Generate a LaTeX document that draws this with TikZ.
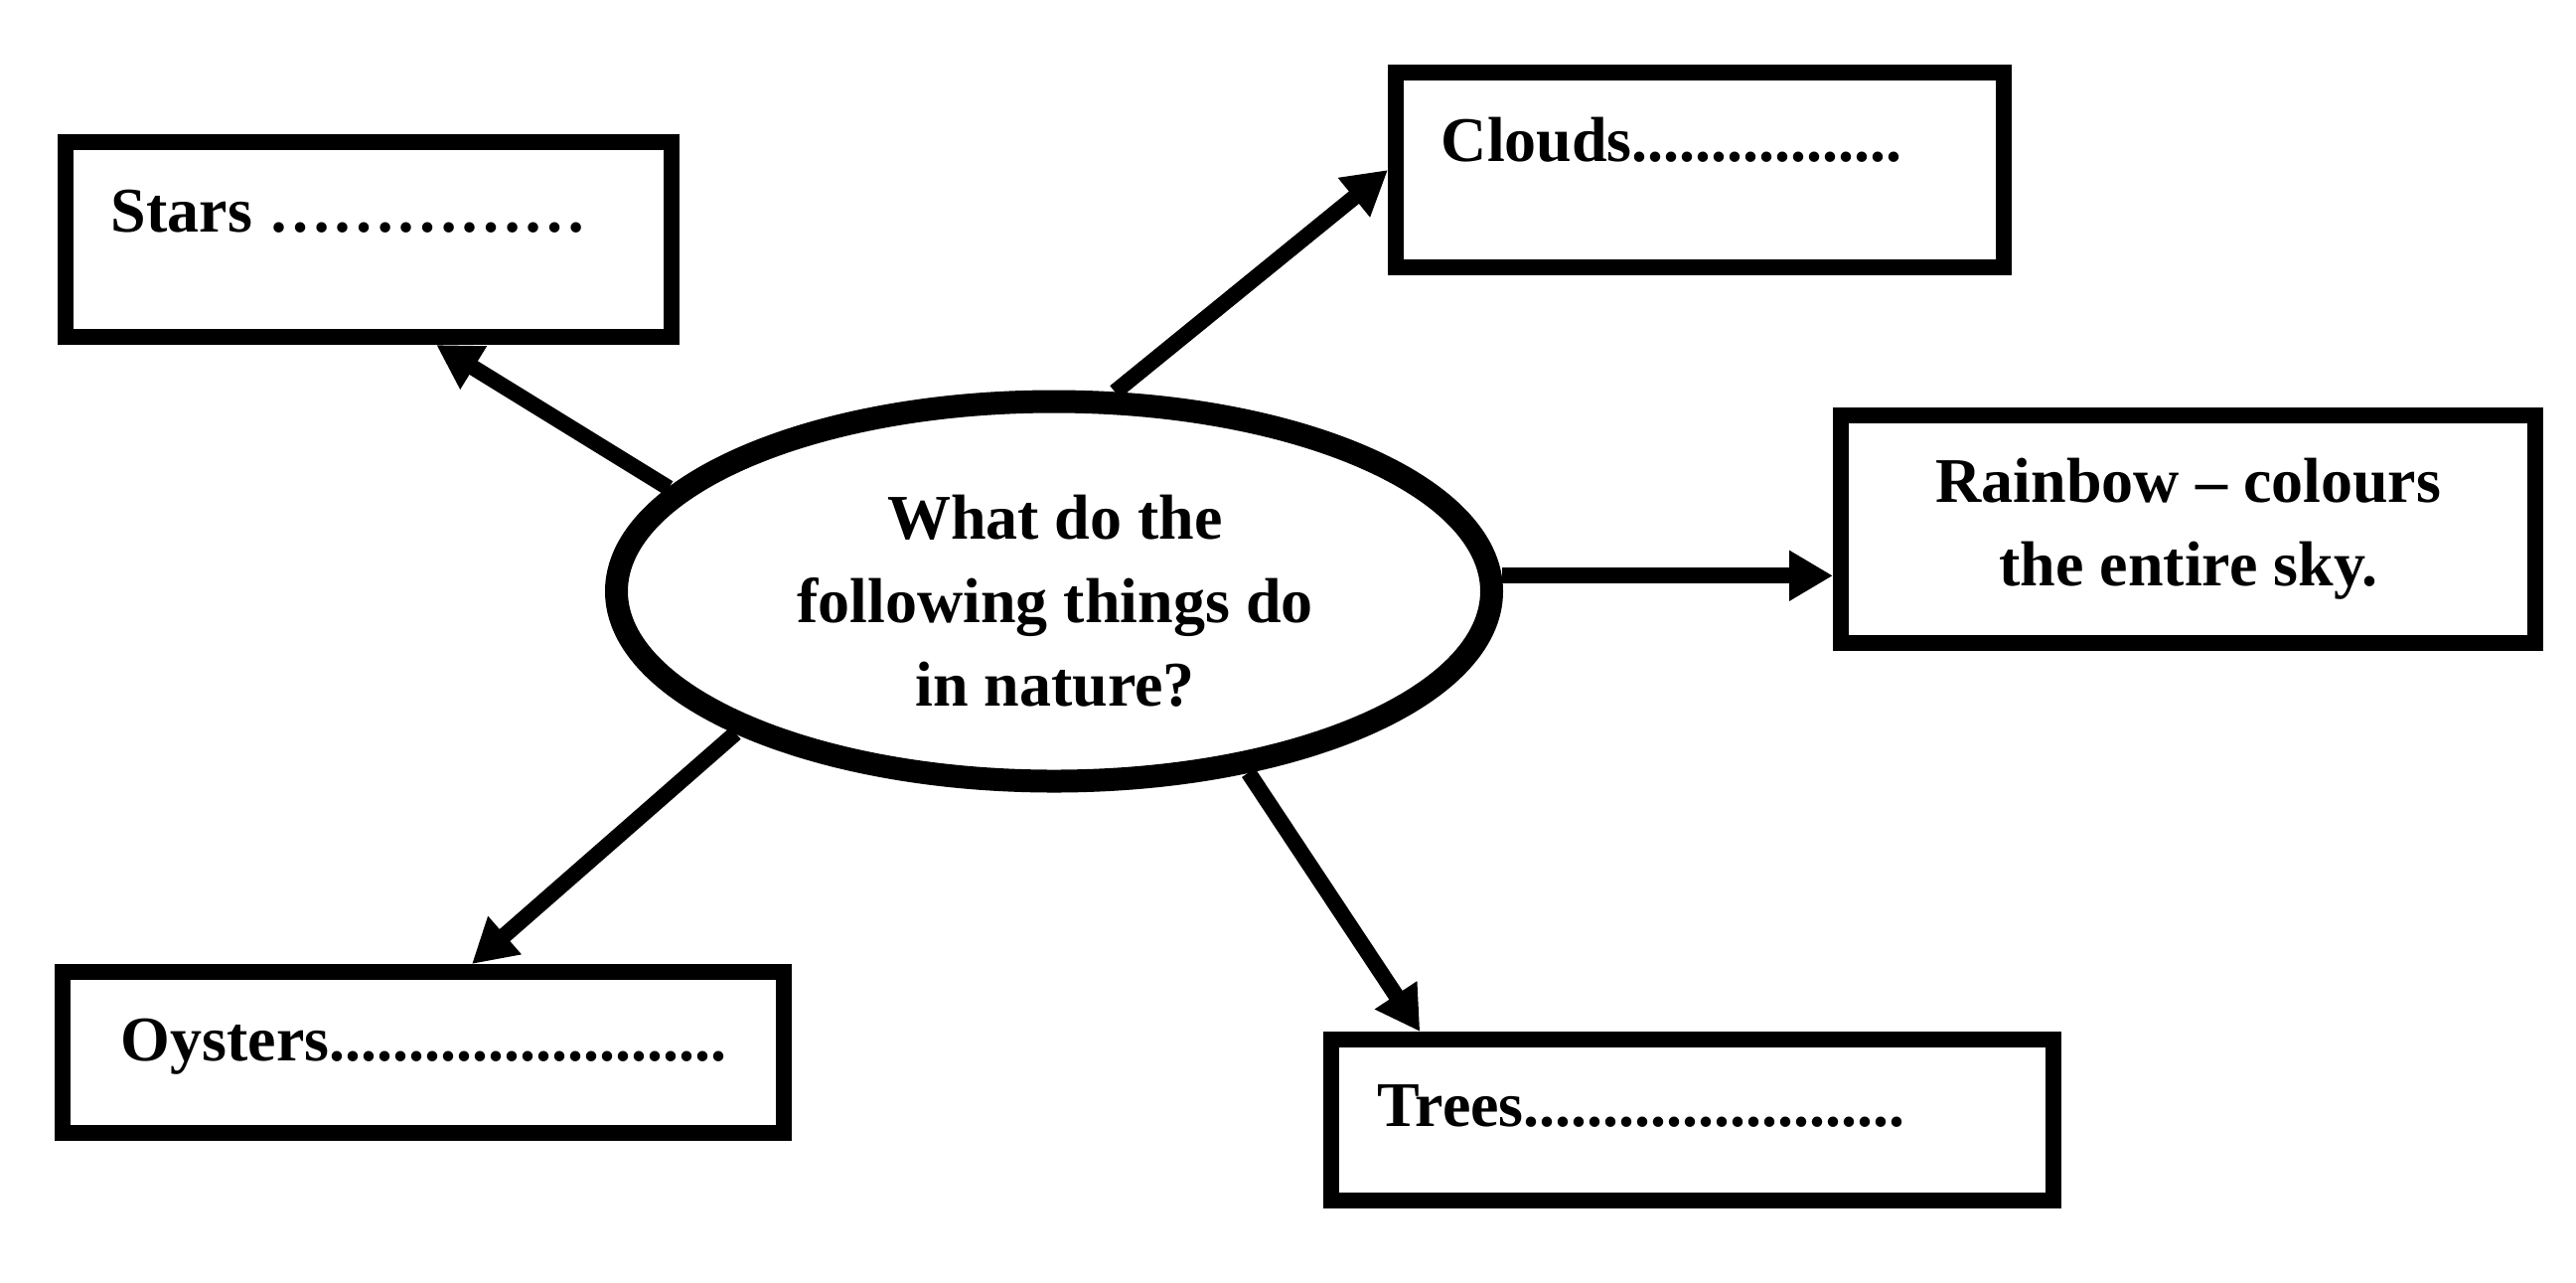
\documentclass[tikz,border=0pt]{standalone}
\usepackage{fontspec}
\setmainfont{Liberation Serif}
\usetikzlibrary{arrows.meta,calc,shapes.geometric}
\tikzset{
  box/.style={draw=black, line width=4pt, rectangle, inner sep=0pt, fill=white},
  bubble/.style={draw=black, line width=5.75pt, ellipse, inner sep=0pt,
    minimum width=220.25pt, minimum height=95.5pt, fill=white},
  txt/.style={inner sep=0pt, font=\bfseries\fontsize{16pt}{21pt}\selectfont},
  arr/.style={line width=4pt, -{Triangle[length=11pt,width=12pt]}},
}
\begin{document}
\begin{tikzpicture}[x=0.25pt,y=-0.25pt]
\useasboundingbox (0,0) rectangle (2593,1290);
% central ellipse
\node[bubble] (ell) at (1061,595) {};
% boxes
\node[box, minimum width=152.5pt, minimum height=49pt] (stars) at (371,241) {};
\node[box, minimum width=153pt, minimum height=49pt] (clouds) at (1711,171) {};
\node[box, minimum width=174.75pt, minimum height=57.25pt] (rain) at (2202.5,532.5) {};
\node[box, minimum width=181.5pt, minimum height=40.5pt] (oys) at (426,1059) {};
\node[box, minimum width=181.75pt, minimum height=40.5pt] (trees) at (1703.5,1127) {};
% texts (anchor=base of a multi-line node is the last line's baseline)
\node[txt, align=center, anchor=base] (q) at (1062,710) {What do the\\following things do\\in nature?};
\node[txt, anchor=base west] (tstars) at (111,233) {Stars ……………};
\node[txt, anchor=base west] (tclouds) at (1450,162) {Clouds.................};
\node[txt, align=center, anchor=base] (train) at (2203,589) {Rainbow – colours\\the entire sky.};
\node[txt, anchor=base west] (toys) at (121,1067) {Oysters.........................};
\node[txt, anchor=base west] (ttrees) at (1386,1133) {Trees........................};
% connectors
\coordinate (sT) at ($(stars.south west)!0.609!(stars.south east)$);
\coordinate (oT) at ($(oys.north west)!0.566!(oys.north east)$);
\coordinate (tT) at ($(trees.north west)!0.131!(trees.north east)$);
\draw[arr] (ell.165.3) -- (sT);
\draw[arr] (ell.73.2) -- (clouds.west);
\draw[arr] (ell.2.5) -- (ell.2.5 -| rain.west);
\draw[arr] (ell.204.7) -- (oT);
\draw[arr] (ell.317.3) -- (tT);
\end{tikzpicture}
\end{document}
